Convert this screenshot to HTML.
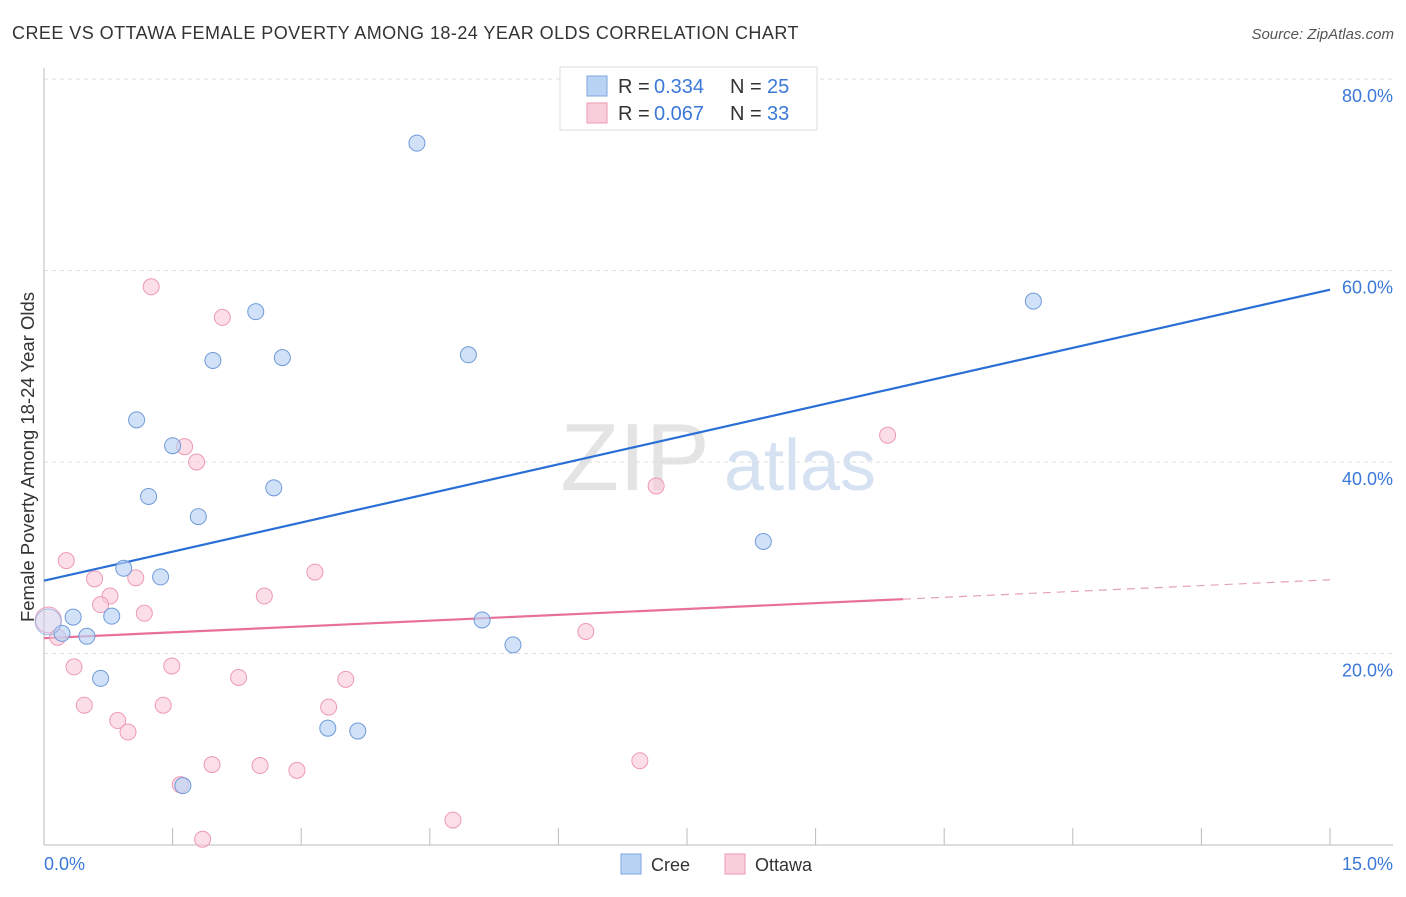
<!DOCTYPE html>
<html><head><meta charset="utf-8">
<style>
body{margin:0;background:#fff;font-family:"Liberation Sans",sans-serif;}
svg text{font-family:"Liberation Sans",sans-serif;}
</style></head>
<body>
<svg id="chart" width="1406" height="892" viewBox="0 0 1406 892" xmlns="http://www.w3.org/2000/svg">
<text x="12" y="39" font-size="18" letter-spacing="0.45" fill="#333">CREE VS OTTAWA FEMALE POVERTY AMONG 18-24 YEAR OLDS CORRELATION CHART</text>
<text x="1394" y="39" font-size="15" fill="#555" font-style="italic" text-anchor="end">Source: ZipAtlas.com</text>
<text x="635" y="490" font-size="96" fill="#e4e4e4" font-family="Liberation Serif" text-anchor="middle">ZIP</text>
<text x="800" y="490" font-size="72" fill="#d6e2f2" text-anchor="middle">atlas</text>
<g id="grid"></g>
<g id="axes"></g>
<g id="trend"></g>
<g id="points"></g>
<text transform="translate(34,457) rotate(-90)" font-size="18.5" fill="#333" text-anchor="middle">Female Poverty Among 18-24 Year Olds</text>
<text x="44" y="870" font-size="18" fill="#3b78d8">0.0%</text>
<text x="1393" y="870" font-size="18" fill="#3b78d8" text-anchor="end">15.0%</text>
<g>
<rect x="560" y="67" width="257" height="63" fill="#fff" stroke="#ddd"/>
<rect x="587" y="76" width="20" height="20" fill="#b9d3f5" stroke="#7ea6e0"/>
<text x="618" y="93" font-size="20" fill="#333">R =</text>
<text x="654" y="93" font-size="20" fill="#3b78d8">0.334</text>
<text x="730" y="93" font-size="20" fill="#333">N =</text>
<text x="767" y="93" font-size="20" fill="#3b78d8">25</text>
<rect x="587" y="103" width="20" height="20" fill="#f9cedb" stroke="#ee9ab5"/>
<text x="618" y="120" font-size="20" fill="#333">R =</text>
<text x="654" y="120" font-size="20" fill="#3b78d8">0.067</text>
<text x="730" y="120" font-size="20" fill="#333">N =</text>
<text x="767" y="120" font-size="20" fill="#3b78d8">33</text>
</g>
<g><rect x="621" y="854" width="20" height="20" fill="#b9d3f5" stroke="#7ea6e0"/><text x="651" y="871" font-size="18" fill="#333">Cree</text></g>
<g><rect x="725" y="854" width="20" height="20" fill="#f9cedb" stroke="#ee9ab5"/><text x="755" y="871" font-size="18" fill="#333">Ottawa</text></g>
</svg>
<script>
const yTicks=[20,40,60,80];
const yTickLabels=["20.0%","40.0%","60.0%","80.0%"];
const creeX=[4.35,2.47,1.97,2.78,4.95,11.54,1.08,1.50,1.22,2.68,1.80,8.39,0.93,1.36,0.79,0.34,0.50,0.21,0.05,0.66,5.11,5.47,3.31,3.66,1.62];
const creeY=[73.3,55.7,50.6,50.9,51.2,56.8,44.4,41.7,36.4,37.3,34.3,31.7,28.9,28.0,23.9,23.8,21.8,22.1,23.3,17.4,23.5,20.9,12.2,11.9,6.2];
const ottX=[1.25,2.08,1.64,1.78,9.84,7.14,0.26,0.59,1.07,3.16,0.77,0.66,2.57,1.17,6.32,0.16,0.05,0.35,1.49,2.27,3.52,0.47,1.39,3.32,0.86,0.98,1.96,2.52,2.95,6.95,1.59,4.77,1.85];
const ottY=[58.3,55.1,41.6,40.0,42.8,37.5,29.7,27.8,27.9,28.5,26.0,25.1,26.0,24.2,22.3,21.7,23.5,18.6,18.7,17.5,17.3,14.6,14.6,14.4,13.0,11.8,8.4,8.3,7.8,8.8,6.3,2.6,0.6];
const creeTrend=[27.6,58.0];
const ottTrend=[21.6,27.7];
const ottSolidEnd=10.02;

const NS="http://www.w3.org/2000/svg";
const X=v=>44+v/15*1286;
const Y=v=>845-v/20*191.5;
function mk(tag,attrs,parent){const e=document.createElementNS(NS,tag);for(const k in attrs)e.setAttribute(k,attrs[k]);parent.appendChild(e);return e;}
const grid=document.getElementById('grid'),axes=document.getElementById('axes'),trend=document.getElementById('trend'),pts=document.getElementById('points');
yTicks.forEach((t,i)=>{
  const l=mk('line',{x1:44,x2:1393,y1:Y(t),y2:Y(t),stroke:'#ddd','stroke-dasharray':'4,4'},grid);
  
  
  const tx=mk('text',{x:1393,y:Y(t)+23,'font-size':18,fill:'#3b78d8','text-anchor':'end'},axes);
  tx.textContent=yTickLabels[i];
  
  
});
const ya=mk('line',{x1:44,x2:44,y1:68,y2:845,stroke:'#bbb'},axes);


const xa=mk('line',{x1:44,x2:1393,y1:845,y2:845,stroke:'#bbb'},axes);


for(let i=0;i<=10;i++){
  const t=mk('line',{x1:X(i*1.5),x2:X(i*1.5),y1:828,y2:845,stroke:'#bbb'},axes);
  
  
}
function lineAt(a,x){return a[0]+(a[1]-a[0])*x/15;}
const bl=mk('line',{x1:X(0),y1:Y(creeTrend[0]),x2:X(15),y2:Y(creeTrend[1]),stroke:'#2a6fd6','stroke-width':2.2},trend);


const pl=mk('line',{x1:X(0),y1:Y(ottTrend[0]),x2:X(ottSolidEnd),y2:Y(lineAt(ottTrend,ottSolidEnd)),stroke:'#e8709a','stroke-width':2.2},trend);


const pd=mk('line',{x1:X(ottSolidEnd),y1:Y(lineAt(ottTrend,ottSolidEnd)),x2:X(15),y2:Y(ottTrend[1]),stroke:'#e8a0b8','stroke-width':1.2,'stroke-dasharray':'8,6'},trend);


ottX.forEach((x,i)=>{
  const big=x<0.1;
  const c=mk('circle',{cx:X(x),cy:Y(ottY[i]),r:(big?13:8),fill:big?'rgba(248,200,216,0.35)':'rgba(248,200,216,0.6)',stroke:'#ee9ab5','stroke-width':1},pts);
  
  
});
creeX.forEach((x,i)=>{
  const big=x<0.1;
  const c=mk('circle',{cx:X(x),cy:Y(creeY[i]),r:(big?13:8),fill:big?'rgba(185,211,245,0.35)':'rgba(185,211,245,0.65)',stroke:big?'rgba(111,154,216,0.6)':'#6f9ad8','stroke-width':1},pts);
  
  
});
</script>
</body></html>
